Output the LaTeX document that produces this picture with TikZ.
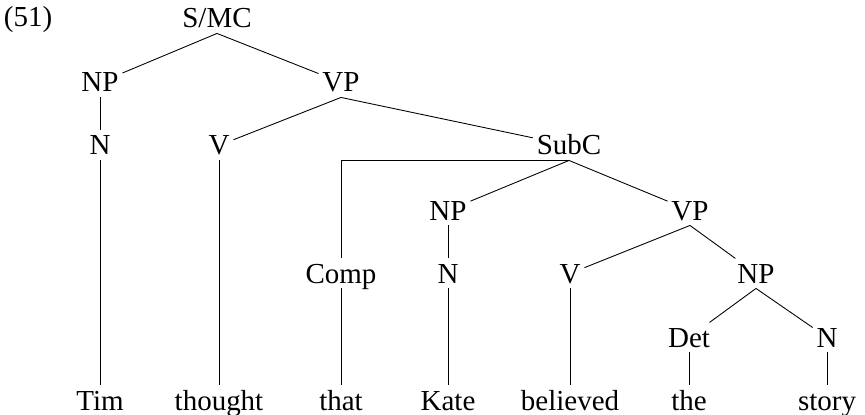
\documentclass[tikz,border=0pt]{standalone}
\usepackage{fontspec}
\setmainfont{Liberation Serif}
\begin{document}
\begin{tikzpicture}[x=0.02cm, y=-0.02cm, line width=0.5pt,
    constituent/.style ={anchor=base, inner xsep=2pt, inner ysep=2.85pt, text height=10.9pt, text depth=0pt, font=\fontsize{16.5}{19}\selectfont}]
   \useasboundingbox (0,0) rectangle (865,415);
   \node[constituent, anchor=base west] (ex) at (0,27) {(51)};
   % categories
   \node[constituent] (smc)  at (217,28)  {S/MC};
   \node[constituent] (np1)  at (100,92)  {NP};
   \node[constituent] (vp1)  at (341,92)  {VP};
   \node[constituent] (n1)   at (100,155) {N};
   \node[constituent] (v1)   at (219,155) {V};
   \node[constituent] (subc) at (569,155) {SubC};
   \node[constituent] (np2)  at (448,220) {NP};
   \node[constituent] (vp2)  at (690,220) {VP};
   \node[constituent] (comp) at (341,283) {Comp};
   \node[constituent] (n2)   at (448,283) {N};
   \node[constituent] (v2)   at (570,283) {V};
   \node[constituent] (np3)  at (756,283) {NP};
   \node[constituent] (det)  at (689,347) {Det};
   \node[constituent] (n3)   at (827,347) {N};
   % words
   \node[constituent] (tim)      at (100,410) {Tim};
   \node[constituent] (thought)  at (219,410) {thought};
   \node[constituent] (that)     at (341,410) {that};
   \node[constituent] (kate)     at (448,410) {Kate};
   \node[constituent] (believed) at (570,410) {believed};
   \node[constituent] (the)      at (689,410) {the};
   \node[constituent] (story)    at (827,410) {story};
   % branches
   \draw (smc.south) to (np1);
   \draw (smc.south) to (vp1);
   \draw (np1.south) to (n1);
   \draw (vp1.south) to (v1);
   \draw (vp1.south) to (subc);
   \draw (n1.south) to (tim);
   \draw (v1.south) to (thought);
   \draw (subc.south) -| (comp);
   \draw (subc.south) to (np2);
   \draw (subc.south) to (vp2);
   \draw (comp.south) to (that);
   \draw (np2.south) to (n2);
   \draw (n2.south) to (kate);
   \draw (vp2.south) to (v2);
   \draw (vp2.south) to (np3);
   \draw (v2.south) to (believed);
   \draw (np3.south) to (det);
   \draw (np3.south) to (n3);
   \draw (det.south) to (the);
   \draw (n3.south) to (story);
 \end{tikzpicture}
\end{document}
